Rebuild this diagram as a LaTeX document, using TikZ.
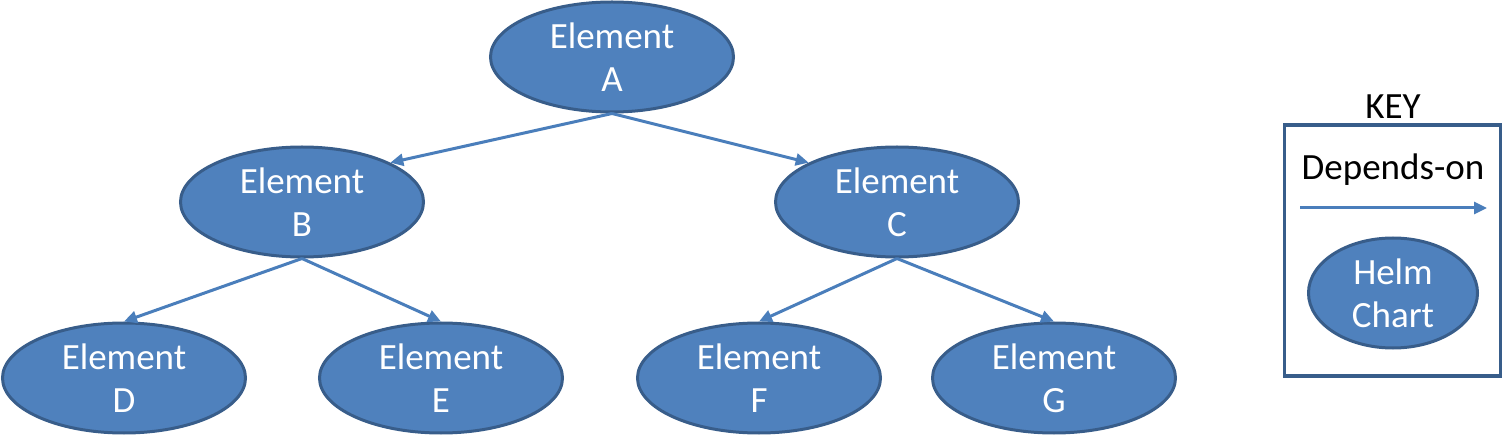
\documentclass[tikz,border=0pt]{standalone}
\usepackage{fontspec}
\setmainfont{Carlito}
\usetikzlibrary{shapes.geometric,arrows.meta}
\definecolor{elfill}{HTML}{4F81BD}
\definecolor{eldraw}{HTML}{385D8A}
\definecolor{arrcol}{HTML}{4A7EBB}
\begin{document}
\begin{tikzpicture}[x=1pt,y=-1pt,
  elem/.style={ellipse,fill=elfill,draw=eldraw,line width=3pt,
    minimum width=243pt,minimum height=110pt,inner sep=0pt,
    text=white,align=center,font=\fontsize{37}{43}\selectfont},
  dep/.style={draw=arrcol,line width=3pt,-{Triangle[length=13pt,width=12pt]}},
  keytext/.style={anchor=base,text=black,font=\fontsize{37}{43}\selectfont,inner sep=0pt}]
\useasboundingbox (0,0) rectangle (1510,446);
\node[elem] (A) at (612,57) {Element\\A};
\node[elem] (B) at (302,202) {Element\\B};
\node[elem] (C) at (897,202) {Element\\C};
\node[elem] (D) at (124,378) {Element\\D};
\node[elem] (E) at (441,378) {Element\\E};
\node[elem] (F) at (759,378) {Element\\F};
\node[elem] (G) at (1054,378) {Element\\G};
\draw[dep] (A.south) -- (B.24);
\draw[dep] (A.south) -- (C.156);
\draw[dep] (B.south) -- (D.north);
\draw[dep] (B.south) -- (E.north);
\draw[dep] (C.south) -- (F.north);
\draw[dep] (C.south) -- (G.north);
% key
\node[draw=eldraw,line width=3.5pt,minimum width=216pt,minimum height=251pt,inner sep=0pt] (keybox) at (1392.5,250.5) {};
\node[keytext] (keylabel) at (1393,119) {KEY};
\node[keytext] (deplabel) at (1393,180) {Depends-on};
\coordinate (ks) at (1300,208);
\coordinate (ke) at (1487,208);
\draw[dep] (ks) -- (ke);
\node[elem,minimum width=169pt] (helm) at (1393,293) {Helm\\Chart};
\end{tikzpicture}
\end{document}
